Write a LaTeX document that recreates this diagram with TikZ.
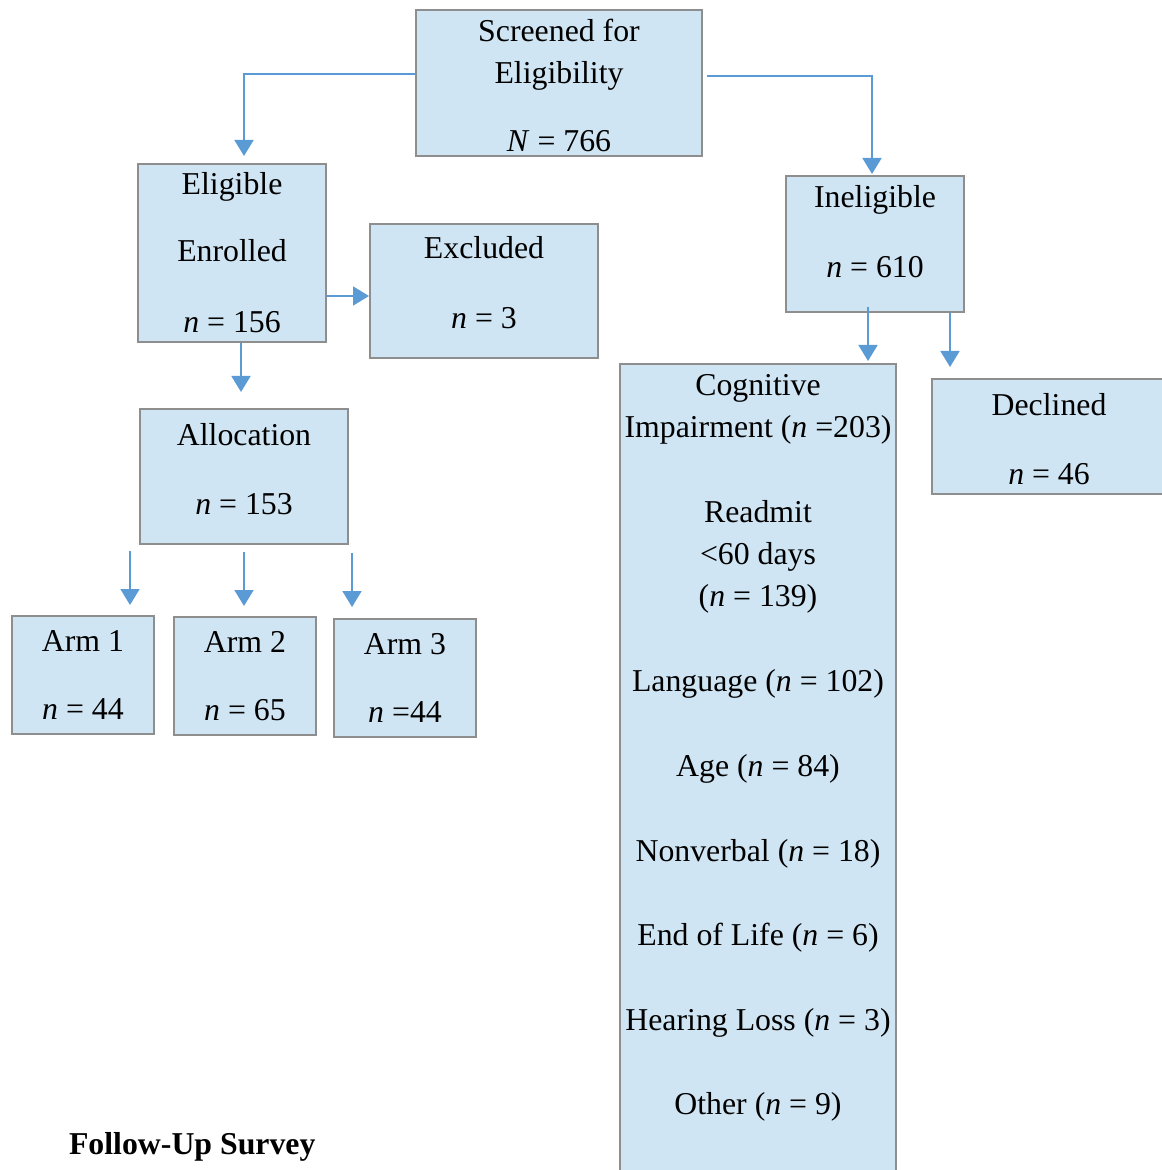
\documentclass[tikz,border=0pt]{standalone}
\usepackage{fontspec}
\setmainfont{Liberation Serif}
\usetikzlibrary{arrows.meta}
\definecolor{boxfill}{RGB}{207,229,243}
\definecolor{boxline}{RGB}{142,142,142}
\definecolor{flowblue}{RGB}{91,155,213}
\tikzset{
  box/.style={rectangle, draw=boxline, fill=boxfill, line width=1pt, align=center, inner sep=2pt,
    font=\fontsize{15.9}{21}\selectfont},
  flow/.style={draw=flowblue, line width=0.9pt, -{Triangle[width=9.5pt,length=8pt]}}
}
\begin{document}
\begin{tikzpicture}[x=0.5pt, y=-0.5pt]
\useasboundingbox (0,0) rectangle (1161,1170);
\node[box, minimum width=143pt, minimum height=73pt] (scr) at (559,83){\mbox{}\\[-7.2pt]Screened for\\Eligibility\\[13pt]\textit{N} = 766};
\node[box, minimum width=94pt, minimum height=89pt] (elig) at (232,253){Eligible\\[12.5pt]Enrolled\\[14.5pt]\textit{n} = 156};
\node[box, minimum width=114pt, minimum height=67pt] (excl) at (484,291){Excluded\\[14pt]\textit{n} = 3\\[-12pt]\mbox{}};
\node[box, minimum width=89pt, minimum height=68pt] (inel) at (875,244){Ineligible\\[14pt]\textit{n} = 610\\[-8pt]\mbox{}};
\node[box, minimum width=104pt, minimum height=67.5pt] (alloc) at (244,476.5){Allocation\\[13.5pt]\textit{n} = 153\\[-13pt]\mbox{}};
\node[box, minimum width=71pt, minimum height=59pt] (arm1) at (83,675){Arm 1\\[13pt]\textit{n} = 44};
\node[box, minimum width=71pt, minimum height=59pt] (arm2) at (245,676){Arm 2\\[13pt]\textit{n} = 65};
\node[box, minimum width=71pt, minimum height=59pt] (arm3) at (405,678){Arm 3\\[13pt]\textit{n} =44};
\node[box, minimum width=117pt, minimum height=57.5pt] (decl) at (1049,436.5){\mbox{}\\[-7.2pt]Declined\\[13.5pt]\textit{n} = 46};
\node[box, minimum width=138pt, minimum height=418pt] (cog) at (758,782){Cognitive\\Impairment (\textit{n} =203)\\[21.5pt]Readmit\\<60 days\\(\textit{n} = 139)\\[21.5pt]Language (\textit{n} = 102)\\[21.5pt]Age (\textit{n} = 84)\\[21.5pt]Nonverbal (\textit{n} = 18)\\[21pt]End of Life (\textit{n} = 6)\\[21.5pt]Hearing Loss (\textit{n} = 3)\\[21pt]Other (\textit{n} = 9)\\[17pt]\mbox{}};
\node[anchor=west, font=\fontsize{15.9}{19}\selectfont\bfseries] (fus) at (62,1147){Follow-Up Survey};
\draw[flow]([yshift=4.5pt]scr.west) -| ([xshift=6pt, yshift=3.5pt]elig.north);
\draw[flow]([xshift=2pt, yshift=3.5pt]scr.east) -| ([xshift=-1.5pt, yshift=0.5pt]inel.north);
\draw[flow]([yshift=-21.5pt]elig.east) -- ([yshift=-2.5pt]excl.west);
\draw[flow]([xshift=4.5pt]elig.south) -- ([xshift=-1.5pt, yshift=8pt]alloc.north);
\draw[flow]([xshift=-57pt, yshift=-3pt]alloc.south) -- ([xshift=23.5pt, yshift=5pt]arm1.north);
\draw[flow]([yshift=-3.5pt]alloc.south) -- ([xshift=-0.5pt, yshift=5pt]arm2.north);
\draw[flow]([xshift=54pt, yshift=-4pt]alloc.south) -- ([xshift=-26.5pt, yshift=5.5pt]arm3.north);
\draw[flow]([xshift=-3.5pt, yshift=3pt]inel.south) -- ([xshift=55pt, yshift=1pt]cog.north);
\draw[flow]([xshift=37.5pt]inel.south) -- ([xshift=-49.5pt, yshift=5.5pt]decl.north);
\end{tikzpicture}
\end{document}
